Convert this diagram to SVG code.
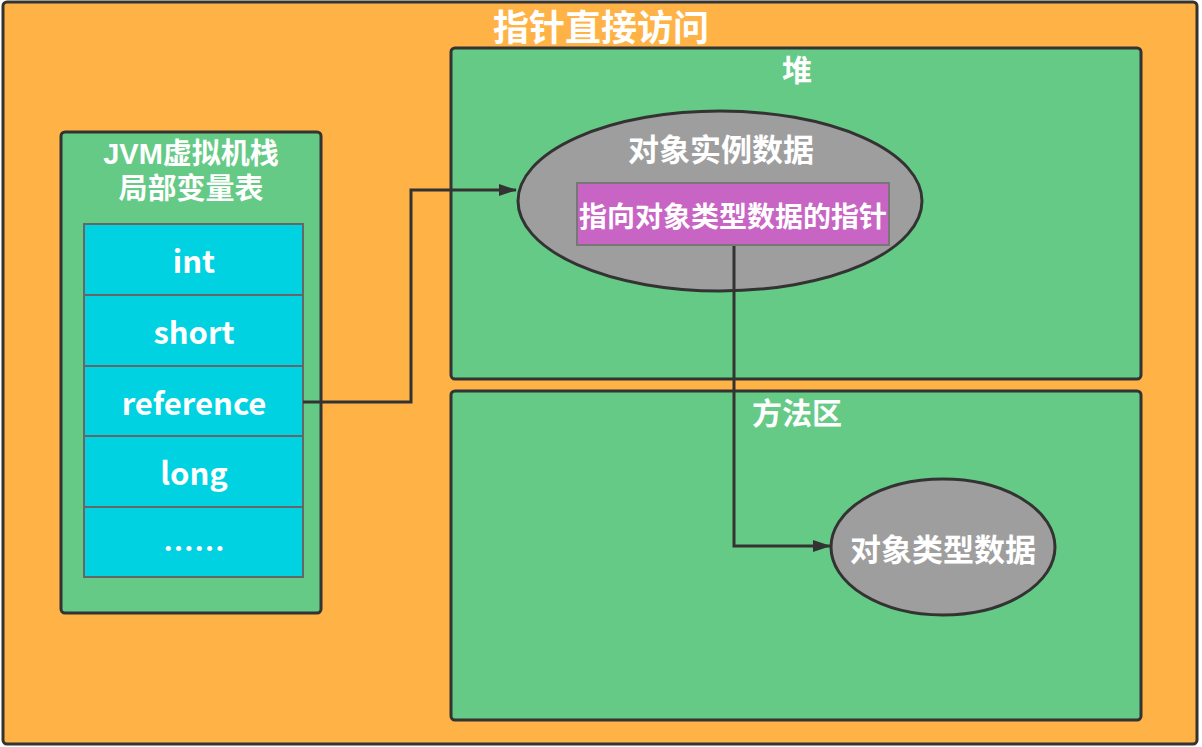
<svg xmlns="http://www.w3.org/2000/svg" width="1202" height="747" viewBox="0 0 1202 747">
<style>
.t{font-family:"Noto Sans CJK SC","Noto Sans",sans-serif;font-weight:bold;fill:#fff;text-anchor:middle;dominant-baseline:central}
.s{font-family:"Liberation Sans","Noto Sans CJK SC",sans-serif}
.box{fill:#66CA87;stroke:#333;stroke-width:3}
.cell{fill:#00D2E2;stroke:#666;stroke-width:2}
.ell{fill:#9E9E9E;stroke:#333;stroke-width:3}
.conn{fill:none;stroke:#333;stroke-width:3}
</style>
<defs>
<marker id="arr" viewBox="0 0 18 12" refX="17" refY="6" markerWidth="18" markerHeight="12" markerUnits="userSpaceOnUse" orient="auto">
<path d="M0,0 L18,6 L0,12 z" fill="#333"/>
</marker>
</defs>
<rect width="1202" height="747" fill="#fff"/>
<g id="outer">
<rect x="3" y="2" width="1194" height="742" rx="4" fill="#FFB347" stroke="#333" stroke-width="3"/>
<text class="t" x="601" y="25" font-size="36">指针直接访问</text>
</g>
<g id="stack">
<rect class="box" x="61" y="132" width="260" height="481" rx="4"/>
<text class="t s" x="191" y="154" font-size="29">JVM虚拟机栈</text>
<text class="t s" x="191" y="189" font-size="29">局部变量表</text>
</g>
<g id="cell-int"><rect class="cell" x="84" y="224" width="219" height="71"/><text class="t" x="194" y="259" font-size="31">int</text></g>
<g id="cell-short"><rect class="cell" x="84" y="295" width="219" height="71"/><text class="t" x="194" y="330" font-size="31">short</text></g>
<g id="cell-reference"><rect class="cell" x="84" y="366" width="219" height="70"/><text class="t" x="194" y="401" font-size="31">reference</text></g>
<g id="cell-long"><rect class="cell" x="84" y="436" width="219" height="71"/><text class="t" x="194" y="471" font-size="31">long</text></g>
<g id="cell-more"><rect class="cell" x="84" y="507" width="219" height="70"/><text class="t" x="194" y="546" font-size="31">……</text></g>
<g id="heap">
<rect class="box" x="451" y="48" width="690" height="331" rx="4"/>
<text class="t" x="797" y="68" font-size="30">堆</text>
</g>
<g id="instance">
<ellipse class="ell" cx="720" cy="201" rx="202" ry="90"/>
<text class="t" x="721" y="147" font-size="31">对象实例数据</text>
</g>
<g id="pointer">
<rect x="577" y="183" width="312" height="62" fill="#C864C4" stroke="#777" stroke-width="2"/>
<text class="t" x="733" y="215" font-size="28">指向对象类型数据的指针</text>
</g>
<g id="method">
<rect class="box" x="451" y="391" width="690" height="329" rx="4"/>
<text class="t" x="797" y="411" font-size="30">方法区</text>
</g>
<g id="typedata">
<ellipse class="ell" cx="943" cy="547" rx="112" ry="68"/>
<text class="t" x="943" y="547" font-size="31">对象类型数据</text>
</g>
<g id="connectors">
<path class="conn" d="M303,402 H411 V190 H516" marker-end="url(#arr)"/>
<path class="conn" d="M734,246 V546 H830" marker-end="url(#arr)"/>
</g>
</svg>
